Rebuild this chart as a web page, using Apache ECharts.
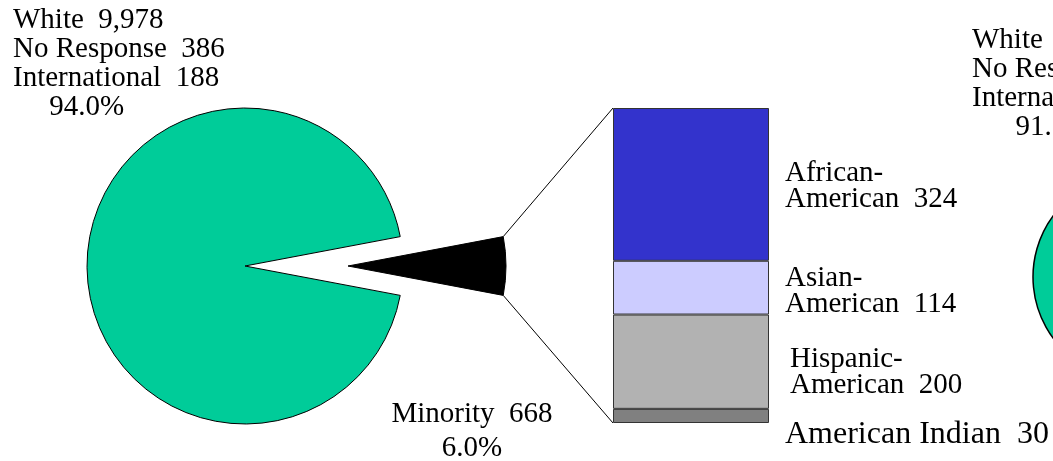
<!DOCTYPE html>
<html>
<head>
    <meta charset="utf-8">
    <title>Minority breakdown</title>
    <style>
        html, body { margin: 0; padding: 0; background: #fff; }
        #container { width: 1053px; height: 461px; }
    </style>
</head>
<body>
    <div id="container"></div>
    <script src="https://cdn.jsdelivr.net/npm/echarts@6/dist/echarts.min.js"></script>
    <script type="text/javascript">

        // left pie: the "White" group is split in three in its label
        var groupNames = ['White', 'No Response', 'International'];
        var leftGroupValues = [9978, 386, 188];
        var leftMinority = 668;

        // stacked column: breakdown of the minority slice (top to bottom)
        var minorityCats = ['African-\nAmerican', 'Asian-\nAmerican', 'Hispanic-\nAmerican', 'American Indian'];
        var minorityValues = [324, 114, 200, 30];
        var minorityColors = ['#3333cc', '#ccccff', '#b2b2b2', '#808080'];

        // second chart, cut off on the right edge (values mostly hidden, estimated)
        var rightGroupValues = [9120, 452, 236];
        var rightMinority = 951;

        var font = "'Liberation Serif', 'Times New Roman', serif";

        function sum(arr) {
            var s = 0;
            for (var i = 0; i < arr.length; i++) s += arr[i];
            return s;
        }
        function fmt(n) {
            return n.toLocaleString('en-US');
        }

        var leftMain = sum(leftGroupValues);
        var leftTotal = leftMain + leftMinority;
        var rightMain = sum(rightGroupValues);
        var rightTotal = rightMain + rightMinority;

        function groupLabel(values, total, indent) {
            var lines = [];
            for (var i = 0; i < groupNames.length; i++) {
                lines.push(groupNames[i] + '  ' + fmt(values[i]));
            }
            lines.push(indent + (sum(values) / total * 100).toFixed(1) + '%');
            return lines.join('\n');
        }

        var pieCenter = [245, 266];
        var pieRadius = 158;
        var explode = 103;
        var hidden = { color: 'rgba(0,0,0,0)', borderWidth: 0 };

        var dom = document.getElementById('container');
        var myChart = echarts.init(dom, null, { renderer: 'canvas' });

        var labelBase = {
            color: '#000',
            fontFamily: font,
            fontSize: 29,
            lineHeight: 29,
            overflow: 'none'
        };

        // bar series, stacked bottom-up
        var barDy = [2, 4, 11, 19];
        var barSeries = [];
        for (var i = minorityValues.length - 1; i >= 0; i--) {
            var last = i === minorityValues.length - 1;
            barSeries.push({
                type: 'bar',
                name: minorityCats[i],
                stack: 'minority',
                barWidth: '100%',
                data: [minorityValues[i]],
                itemStyle: { color: minorityColors[i], borderColor: '#333', borderWidth: 1 },
                emphasis: { disabled: true },
                label: {
                    show: true,
                    position: 'right',
                    distance: i === 2 ? 21 : 16,
                    offset: [0, barDy[i]],
                    color: '#000',
                    fontFamily: font,
                    fontSize: last ? 32 : 29,
                    lineHeight: 26,
                    formatter: (function (name) {
                        return function (p) { return name + '  ' + p.value; };
                    })(minorityCats[i])
                }
            });
        }

        var option = {
            animation: false,
            grid: { left: 613, top: 108, width: 156, height: 315 },
            xAxis: { type: 'category', data: ['Minority'], show: false },
            yAxis: { type: 'value', min: 0, max: leftMinority, show: false },
            series: [
                // main pie, minority slice left empty
                {
                    type: 'pie',
                    center: pieCenter,
                    radius: pieRadius,
                    startAngle: leftMinority / leftTotal * 180,
                    emphasis: { disabled: true },
                    labelLine: { show: false },
                    label: labelBase,
                    labelLayout: function (p) {
                        if (p.dataIndex === 0) {
                            return { x: 472, y: 397, align: 'center', verticalAlign: 'top' };
                        }
                        return { x: 13, y: 6, align: 'left', verticalAlign: 'top' };
                    },
                    data: [
                        {
                            name: 'Minority', value: leftMinority,
                            itemStyle: hidden,
                            label: {
                                lineHeight: 34,
                                formatter: 'Minority  ' + leftMinority + '\n' + (leftMinority / leftTotal * 100).toFixed(1) + '%'
                            }
                        },
                        {
                            name: 'White', value: leftMain,
                            itemStyle: { color: '#00cc99', borderColor: '#000', borderWidth: 1 },
                            label: { formatter: groupLabel(leftGroupValues, leftTotal, '     ') }
                        }
                    ]
                },
                // exploded minority slice
                {
                    type: 'pie',
                    center: [pieCenter[0] + explode, pieCenter[1]],
                    radius: pieRadius,
                    startAngle: leftMinority / leftTotal * 180,
                    emphasis: { disabled: true },
                    silent: true,
                    label: { show: false },
                    labelLine: { show: false },
                    data: [
                        { name: 'Minority', value: leftMinority, itemStyle: { color: '#000', borderColor: '#000', borderWidth: 1 } },
                        { name: 'rest', value: leftMain, itemStyle: hidden }
                    ]
                },
                // second chart, mostly outside the window
                {
                    type: 'pie',
                    center: [1136, 277],
                    radius: 103,
                    startAngle: rightMinority / rightTotal * 180,
                    emphasis: { disabled: true },
                    labelLine: { show: false },
                    label: labelBase,
                    labelLayout: function (p) {
                        if (p.dataIndex === 0) {
                            return { x: 1300, y: 400, align: 'center', verticalAlign: 'top' };
                        }
                        return { x: 972, y: 26, align: 'left', verticalAlign: 'top' };
                    },
                    data: [
                        {
                            name: 'Minority', value: rightMinority,
                            itemStyle: hidden,
                            label: { formatter: 'Minority  ' + rightMinority }
                        },
                        {
                            name: 'White', value: rightMain,
                            itemStyle: { color: '#00cc99', borderColor: '#000', borderWidth: 1.5 },
                            label: { formatter: groupLabel(rightGroupValues, rightTotal, '      ') }
                        }
                    ]
                }
            ].concat(barSeries)
        };

        myChart.setOption(option);

        // lines from the exploded slice to the column
        var half = leftMinority / leftTotal * Math.PI;
        var wx = pieCenter[0] + explode + pieRadius * Math.cos(half);
        var wyTop = pieCenter[1] - pieRadius * Math.sin(half);
        var wyBot = pieCenter[1] + pieRadius * Math.sin(half);
        var barLeft = option.grid.left;
        var barTop = myChart.convertToPixel({ yAxisIndex: 0 }, leftMinority);
        var barBot = myChart.convertToPixel({ yAxisIndex: 0 }, 0);

        myChart.setOption({
            graphic: [
                { type: 'line', shape: { x1: wx, y1: wyTop, x2: barLeft, y2: barTop }, style: { stroke: '#000', lineWidth: 1 } },
                { type: 'line', shape: { x1: wx, y1: wyBot, x2: barLeft, y2: barBot }, style: { stroke: '#000', lineWidth: 1 } }
            ]
        });

        window.addEventListener('resize', myChart.resize);
    </script>
</body>
</html>
